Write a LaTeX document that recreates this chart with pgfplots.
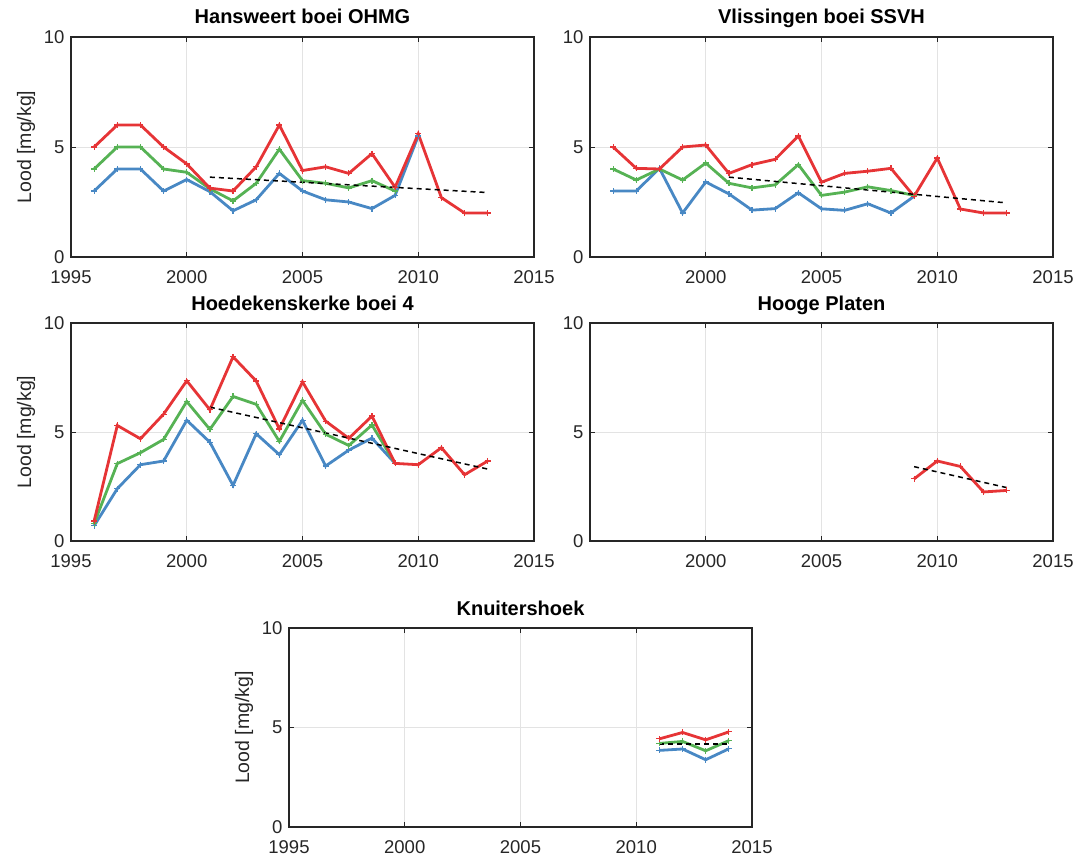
\documentclass[border=0pt]{standalone}
\usepackage{pgfplots}
\pgfplotsset{compat=1.18}
\usepackage{fontspec}
\setmainfont{Liberation Sans}

\definecolor{cblue}{RGB}{72,136,196}
\definecolor{cgreen}{RGB}{86,178,84}
\definecolor{cred}{RGB}{230,52,54}
\definecolor{caxis}{RGB}{38,38,38}

\pgfplotsset{
  lood/.style={
    scale only axis, width=463pt,
    xmin=1995, xmax=2015, ymin=0, ymax=10,
    xtick={1995,2000,2005,2010,2015}, ytick={0,5,10},
    xticklabel style={/pgf/number format/1000 sep={}, yshift=-10pt},
    yticklabel style={xshift=-3pt},
    /pgf/number format/assume math mode=true,
    tick align=inside, major tick length=5pt,
    tick style={caxis, line width=1pt},
    axis line style={caxis, line width=1.2pt},
    grid=major, major grid style={gray!22, line width=0.8pt},
    tick label style={font=\fontsize{18.5}{22}\selectfont, text=caxis},
    title style={font=\bfseries\fontsize{20}{24}\selectfont, at={(axis description cs:0.5,1)}, anchor=base, yshift=7pt},
    label style={font=\fontsize{19.5}{23}\selectfont, text=caxis},
    ylabel style={at={(axis description cs:-0.07,0.5)}, anchor=south, rotate=0},
    every axis plot/.append style={line width=2.8pt, mark=+, mark size=3pt, mark options={solid, line width=1.2pt}},
  },
  trend/.style={black, line width=1.5pt, dash pattern=on 5pt off 4pt, mark=none},
}

\begin{document}
\begin{tikzpicture}
\useasboundingbox (0,0) rectangle (1077pt,-859pt);

% Hansweert
\begin{axis}[lood, at={(71pt,-37pt)}, anchor=north west, height=220pt,
  title={Hansweert boei OHMG}, ylabel={Lood [mg/kg]}]
\addplot[cblue] coordinates {(1996,3.0)(1997,4.0)(1998,4.0)(1999,3.0)(2000,3.52)(2001,2.97)(2002,2.1)(2003,2.6)(2004,3.8)(2005,3.0)(2006,2.6)(2007,2.5)(2008,2.2)(2009,2.8)(2010,5.5)};
\addplot[cgreen] coordinates {(1996,4.0)(1997,5.0)(1998,5.0)(1999,4.0)(2000,3.85)(2001,3.1)(2002,2.55)(2003,3.35)(2004,4.9)(2005,3.47)(2006,3.35)(2007,3.14)(2008,3.47)(2009,3.0)};
\addplot[cred] coordinates {(1996,5.0)(1997,6.0)(1998,6.0)(1999,5.0)(2000,4.23)(2001,3.13)(2002,3.0)(2003,4.1)(2004,6.0)(2005,3.93)(2006,4.1)(2007,3.8)(2008,4.7)(2009,3.17)(2010,5.6)(2011,2.7)(2012,2.0)(2013,2.0)};
\addplot[trend] coordinates {(2001,3.63)(2013,2.93)};
\end{axis}

% Vlissingen
\begin{axis}[lood, at={(590pt,-37pt)}, anchor=north west, height=220pt,
  title={Vlissingen boei SSVH}, xticklabels={,2000,2005,2010,2015}]
\addplot[cblue] coordinates {(1996,3.0)(1997,3.0)(1998,4.03)(1999,2.0)(2000,3.41)(2001,2.87)(2002,2.13)(2003,2.2)(2004,2.92)(2005,2.19)(2006,2.12)(2007,2.42)(2008,2.0)(2009,2.76)};
\addplot[cgreen] coordinates {(1996,4.0)(1997,3.5)(1998,4.0)(1999,3.5)(2000,4.27)(2001,3.35)(2002,3.14)(2003,3.28)(2004,4.2)(2005,2.8)(2006,2.95)(2007,3.19)(2008,3.02)(2009,2.8)};
\addplot[cred] coordinates {(1996,5.0)(1997,4.03)(1998,4.0)(1999,5.0)(2000,5.09)(2001,3.8)(2002,4.2)(2003,4.44)(2004,5.5)(2005,3.4)(2006,3.8)(2007,3.9)(2008,4.03)(2009,2.76)(2010,4.5)(2011,2.18)(2012,2.0)(2013,2.0)};
\addplot[trend] coordinates {(2001,3.63)(2013,2.46)};
\end{axis}

% Hoedekenskerke
\begin{axis}[lood, at={(71pt,-323pt)}, anchor=north west, height=218pt,
  title={Hoedekenskerke boei 4}, ylabel={Lood [mg/kg]}]
\addplot[cblue] coordinates {(1996,0.7)(1997,2.4)(1998,3.5)(1999,3.67)(2000,5.54)(2001,4.53)(2002,2.55)(2003,4.92)(2004,3.96)(2005,5.54)(2006,3.44)(2007,4.17)(2008,4.72)(2009,3.56)};
\addplot[cgreen] coordinates {(1996,0.8)(1997,3.55)(1998,4.05)(1999,4.66)(2000,6.4)(2001,5.12)(2002,6.63)(2003,6.27)(2004,4.57)(2005,6.45)(2006,4.9)(2007,4.38)(2008,5.32)(2009,3.56)};
\addplot[cred] coordinates {(1996,0.92)(1997,5.3)(1998,4.69)(1999,5.82)(2000,7.35)(2001,6.02)(2002,8.45)(2003,7.34)(2004,5.14)(2005,7.3)(2006,5.5)(2007,4.71)(2008,5.73)(2009,3.56)(2010,3.5)(2011,4.28)(2012,3.04)(2013,3.67)};
\addplot[trend] coordinates {(2001,6.14)(2013,3.3)};
\end{axis}

% Hooge Platen
\begin{axis}[lood, at={(590pt,-323pt)}, anchor=north west, height=218pt,
  title={Hooge Platen}, xticklabels={,2000,2005,2010,2015}]
\addplot[cred] coordinates {(2009,2.85)(2010,3.67)(2011,3.42)(2012,2.25)(2013,2.32)};
\addplot[trend] coordinates {(2009,3.41)(2013,2.45)};
\end{axis}

% Knuitershoek
\begin{axis}[lood, at={(289pt,-628pt)}, anchor=north west, height=199pt,
  title={Knuitershoek}, ylabel={Lood [mg/kg]}]
\addplot[cblue] coordinates {(2011,3.85)(2012,3.92)(2013,3.38)(2014,3.93)};
\addplot[cgreen] coordinates {(2011,4.2)(2012,4.3)(2013,3.83)(2014,4.34)};
\addplot[cred] coordinates {(2011,4.43)(2012,4.75)(2013,4.38)(2014,4.78)};
\addplot[trend] coordinates {(2011,4.17)(2014,4.17)};
\end{axis}
\end{tikzpicture}
\end{document}
